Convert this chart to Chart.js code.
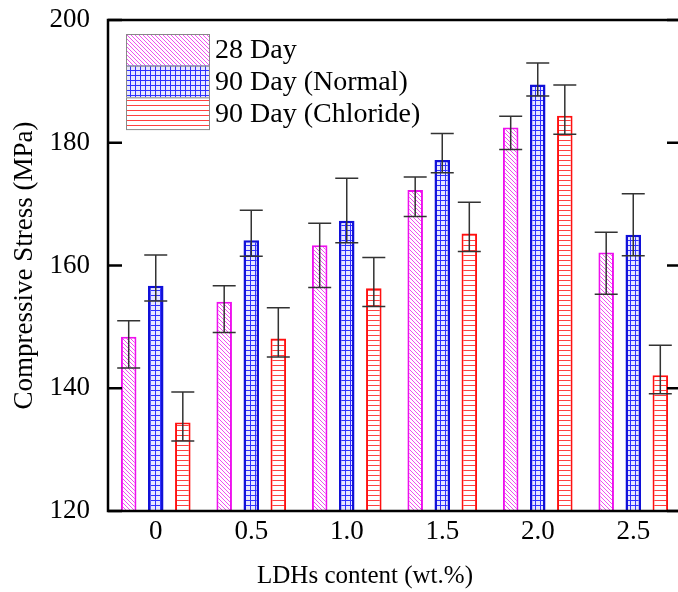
<!DOCTYPE html>
<html>
<head>
<meta charset="utf-8">
<script src="https://cdn.jsdelivr.net/npm/chart.js@4"></script>
<style>
  html, body { margin: 0; padding: 0; background: #fff; overflow: hidden; }
</style>
</head>
<body>
<canvas id="stressChart" width="690" height="592"></canvas>
<script>
// LDHs content categories
const contents = ["0", "0.5", "1.0", "1.5", "2.0", "2.5"];

// compressive stress (MPa)
const day28 = [148.4, 154.1, 163.3, 172.3, 182.5, 162.1];
const day90Normal = [156.7, 164.1, 167.3, 177.2, 189.5, 165.0];
const day90Chloride = [134.4, 148.1, 156.3, 165.2, 184.4, 142.1];

// error bar ends (top / bottom whisker values)
const day28Hi = [151.0, 156.7, 166.9, 174.4, 184.3, 165.4];
const day28Lo = [143.3, 149.1, 156.4, 168.0, 178.9, 155.3];
const normalHi = [161.7, 169.0, 174.2, 181.5, 193.0, 171.7];
const normalLo = [154.2, 161.5, 163.7, 175.1, 187.6, 161.6];
const chlorideHi = [139.4, 153.1, 161.3, 170.3, 189.4, 147.0];
const chlorideLo = [131.4, 145.1, 153.3, 162.3, 181.4, 139.1];

const yTicks = [120, 140, 160, 180, 200];

const serif = "'Liberation Serif', 'Times New Roman', serif";

// hatch fills
function makePattern(size, draw) {
  const c = document.createElement("canvas");
  c.width = size;
  c.height = size;
  const g = c.getContext("2d");
  g.fillStyle = "#fff";
  g.fillRect(0, 0, size, size);
  draw(g, size);
  return g.createPattern(c, "repeat");
}

const diagHatch = makePattern(4, (g, s) => {
  g.strokeStyle = "#f050f0";
  g.lineWidth = 1;
  g.beginPath();
  g.moveTo(-1, -1); g.lineTo(s + 1, s + 1);
  g.moveTo(-1, s - 1); g.lineTo(1, s + 1);
  g.moveTo(s - 1, -1); g.lineTo(s + 1, 1);
  g.stroke();
});

const gridHatch = makePattern(5, (g, s) => {
  g.fillStyle = "#e6e6ff";
  g.fillRect(1, 1, s - 1, s - 1);
  g.strokeStyle = "#3030ff";
  g.lineWidth = 1;
  g.beginPath();
  g.moveTo(0.5, 0); g.lineTo(0.5, s);
  g.moveTo(0, 0.5); g.lineTo(s, 0.5);
  g.stroke();
});

const lineHatch = makePattern(5, (g, s) => {
  g.strokeStyle = "#ff4040";
  g.lineWidth = 1;
  g.beginPath();
  g.moveTo(0, 0.5); g.lineTo(s, 0.5);
  g.stroke();
});

// error bars on top of the bars
const errorBars = {
  id: "errorBars",
  afterDatasetsDraw(chart) {
    const ctx = chart.ctx;
    const y = chart.scales.y;
    ctx.save();
    ctx.strokeStyle = "#333";
    ctx.lineWidth = 1.5;
    chart.data.datasets.forEach((ds, i) => {
      chart.getDatasetMeta(i).data.forEach((bar, j) => {
        const top = y.getPixelForValue(ds.errHi[j]);
        const bot = y.getPixelForValue(ds.errLo[j]);
        const cap = 11.5;
        ctx.beginPath();
        ctx.moveTo(bar.x, top); ctx.lineTo(bar.x, bot);
        ctx.moveTo(bar.x - cap, top); ctx.lineTo(bar.x + cap, top);
        ctx.moveTo(bar.x - cap, bot); ctx.lineTo(bar.x + cap, bot);
        ctx.stroke();
      });
    });
    ctx.restore();
  }
};

// box frame, inward ticks, legend and x title
const frame = {
  id: "frame",
  afterDraw(chart) {
    const ctx = chart.ctx;
    const { left, right, top, bottom } = chart.chartArea;
    const y = chart.scales.y;
    ctx.save();
    ctx.strokeStyle = "#000";
    ctx.lineWidth = 2.5;
    ctx.strokeRect(left, top, right - left, bottom - top);
    ctx.beginPath();
    yTicks.forEach((v) => {
      const py = y.getPixelForValue(v);
      ctx.moveTo(left, py); ctx.lineTo(left + 14, py);
      ctx.moveTo(right, py); ctx.lineTo(right - 14, py);
    });
    ctx.stroke();

    // legend
    const lx = 126, ly = 34, w = 83, h = 31.7;
    chart.data.datasets.forEach((ds, i) => {
      const ry = ly + i * h;
      ctx.fillStyle = ds.backgroundColor;
      ctx.fillRect(lx, ry, w, h);
      ctx.strokeStyle = "#888";
      ctx.lineWidth = 1;
      ctx.strokeRect(lx + 0.5, ry + 0.5, w, h);
      ctx.fillStyle = "#000";
      ctx.font = "28px " + serif;
      ctx.textAlign = "left";
      ctx.textBaseline = "middle";
      ctx.fillText(ds.label, lx + w + 6, ry + h / 2 + 1);
    });

    // x axis title
    ctx.font = "25px " + serif;
    ctx.textAlign = "center";
    ctx.textBaseline = "middle";
    ctx.fillText("LDHs content (wt.%)", 365, 576);
    ctx.restore();
  }
};

new Chart(document.getElementById("stressChart"), {
  type: "bar",
  data: {
    labels: contents,
    datasets: [
      {
        label: "28 Day",
        data: day28,
        errHi: day28Hi,
        errLo: day28Lo,
        backgroundColor: diagHatch,
        borderColor: "#ee10ee",
        borderWidth: 2,
      },
      {
        label: "90 Day (Normal)",
        data: day90Normal,
        errHi: normalHi,
        errLo: normalLo,
        backgroundColor: gridHatch,
        borderColor: "#1010d8",
        borderWidth: 2.5,
      },
      {
        label: "90 Day (Chloride)",
        data: day90Chloride,
        errHi: chlorideHi,
        errLo: chlorideLo,
        backgroundColor: lineHatch,
        borderColor: "#ff1010",
        borderWidth: 2,
      },
    ],
  },
  options: {
    responsive: false,
    animation: false,
    layout: { padding: { left: 0, top: 20, right: 9, bottom: 0 } },
    barPercentage: 0.574,
    categoryPercentage: 0.85,
    plugins: {
      legend: { display: false },
      tooltip: { enabled: false },
    },
    scales: {
      x: {
        grid: { display: false, drawTicks: false },
        border: { display: false },
        ticks: {
          color: "#000",
          font: { family: serif, size: 27 },
          padding: 5,
        },
        afterFit: (scale) => {
          scale.height = 81;
          scale.paddingLeft = 0;
          scale.paddingRight = 0;
        },
      },
      y: {
        min: 120,
        max: 200,
        grid: { display: false, drawTicks: false },
        border: { display: false },
        ticks: {
          stepSize: 20,
          color: "#000",
          font: { family: serif, size: 27 },
          padding: 18,
        },
        title: {
          display: true,
          text: "Compressive Stress (MPa)",
          color: "#000",
          font: { family: serif, size: 27 },
          padding: { top: 9, bottom: 0 },
        },
        afterFit: (scale) => {
          scale.width = 108;
          scale.paddingTop = 0;
          scale.paddingBottom = 0;
        },
      },
    },
  },
  plugins: [errorBars, frame],
});
</script>
</body>
</html>
